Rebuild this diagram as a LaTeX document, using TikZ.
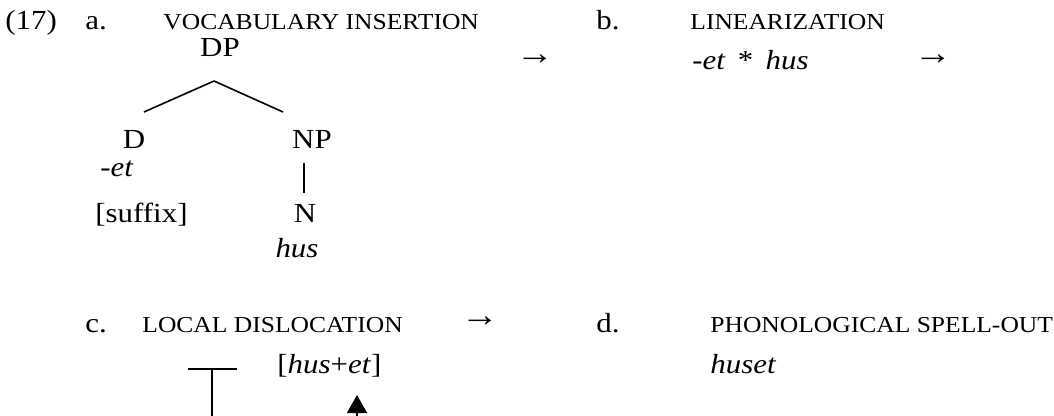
\documentclass[tikz,border=0pt]{standalone}
\usepackage{fontspec}
\setmainfont{Liberation Serif}[FakeStretch=1.12]
\usetikzlibrary{arrows.meta}

\newcommand{\stagefont}{\fontsize{11.4}{13}\selectfont}

\begin{document}
\begin{tikzpicture}[x=0.5pt, y=-0.5pt,
    font=\fontsize{13.8}{16}\selectfont,
    txt/.style={anchor=base west, inner sep=0pt},
    cat/.style={anchor=base, inner sep=0pt},
    stage/.style={txt, font=\stagefont},
    thenarrow/.style={anchor=center, inner sep=0pt, font=\fontsize{17}{20}\selectfont},
    branch/.style={line width=0.8pt},
    move/.style={line width=0.8pt, -{Triangle[width=10pt,length=9pt]}}]

    \useasboundingbox (0,0) rectangle (1054,416);
    \clip (0,0) rectangle (1054,416);

    % a. vocabulary insertion
    \node[txt] (ex) at (5,30) {(17)};
    \node[txt] (a) at (85,30) {a.};
    \node[stage] (vi) at (163,30) {VOCABULARY INSERTION};
    \node[cat] (DP) at (220,57) {DP};
    \node[cat] (D) at (134,149) {D};
    \node[cat] (NP) at (312,149) {NP};
    \node[txt] (det) at (100,177) {-\textit{et}};
    \node[txt] (suffix) at (95,223) {[suffix]};
    \node[cat] (N) at (305,223) {N};
    \node[cat] (hus) at (297,258) {\textit{hus}};

    % branches
    \coordinate (DP-foot) at (214,81);
    \coordinate (D-top) at (144,112);
    \coordinate (NP-top) at (283,112);
    \coordinate (NP-foot) at (304,163);
    \coordinate (N-top) at (304,193);
    \draw[branch] (DP-foot) -- (D-top);
    \draw[branch] (DP-foot) -- (NP-top);
    \draw[branch] (NP-foot) -- (N-top);

    % b. linearization
    \node[thenarrow] (ab) at (535,60) {→};
    \node[txt] (b) at (596,30) {b.};
    \node[stage] (lin) at (690,30) {LINEARIZATION};
    \node[txt] (chain) at (692,70) {-\textit{et} \,*\, \textit{hus}};
    \node[thenarrow] (bc) at (933,60) {→};

    % c. local dislocation
    \node[txt] (c) at (85,333) {c.};
    \node[stage] (ld) at (142,333) {LOCAL DISLOCATION};
    \node[txt] (husplus) at (277,373) {[\textit{hus}+\textit{et}]};
    \coordinate (bar-l) at (188,369);
    \coordinate (bar-r) at (237,369);
    \coordinate (bar-m) at (212,369);
    \coordinate (bar-foot) at (212,440);
    \draw[branch] (bar-l) -- (bar-r);
    \draw[branch] (bar-m) -- (bar-foot);
    \coordinate (mv-foot) at (357,440);
    \coordinate (mv-tip) at (357,395);
    \draw[move] (mv-foot) -- (mv-tip);
    \node[thenarrow] (cd) at (480,322) {→};

    % d. phonological spell-out
    \node[txt] (d) at (596,333) {d.};
    \node[stage] (pso) at (710,333) {PHONOLOGICAL SPELL-OUT};
    \node[txt] (huset) at (710,373) {\textit{huset}};
\end{tikzpicture}
\end{document}
